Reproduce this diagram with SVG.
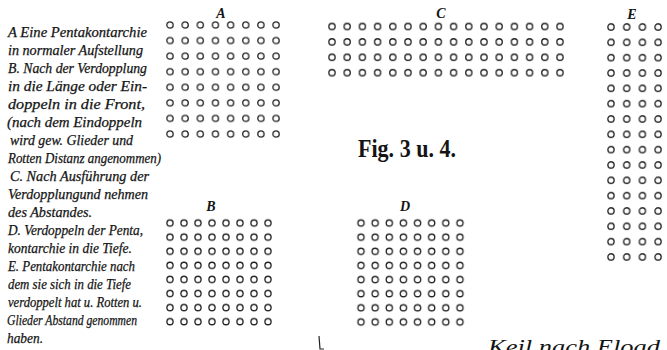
<svg xmlns="http://www.w3.org/2000/svg" width="667" height="350" viewBox="0 0 667 350">
<style>
.t{font-family:"Liberation Serif",serif;font-style:italic;font-size:14px;fill:#141414;stroke:#141414;stroke-width:0.25}
.lb{font-family:"Liberation Serif",serif;font-style:italic;font-weight:bold;font-size:14px;fill:#141414;text-anchor:middle}
.o{fill:none;stroke:#1e1e1e;stroke-width:1.3}
</style>
<defs>
<pattern id="pA" patternUnits="userSpaceOnUse" x="162.43" y="17.21" width="15.15" height="15.57"><circle class="o" cx="7.575" cy="7.785" r="3.1"/></pattern>
<pattern id="pC" patternUnits="userSpaceOnUse" x="324.4" y="18.8" width="15.2" height="15.4"><circle class="o" cx="7.6" cy="7.7" r="3.1"/></pattern>
<pattern id="pE" patternUnits="userSpaceOnUse" x="603.15" y="19.33" width="15.7" height="15.33"><circle class="o" cx="7.85" cy="7.665" r="3.1"/></pattern>
<pattern id="pB" patternUnits="userSpaceOnUse" x="163" y="215.95" width="14" height="14.1"><circle class="o" cx="7" cy="7.05" r="3.1"/></pattern>
<pattern id="pD" patternUnits="userSpaceOnUse" x="353.93" y="215.93" width="14.14" height="14.14"><circle class="o" cx="7.07" cy="7.07" r="3.1"/></pattern>
</defs>
<rect width="667" height="350" fill="#ffffff"/>
<g id="legend">
<text class="t" x="8" y="37" textLength="139" lengthAdjust="spacingAndGlyphs">A Eine Pentakontarchie</text>
<text class="t" x="8" y="55" textLength="135" lengthAdjust="spacingAndGlyphs">in normaler Aufstellung</text>
<text class="t" x="8" y="73" textLength="139" lengthAdjust="spacingAndGlyphs">B. Nach der Verdopplung</text>
<text class="t" x="8" y="91" textLength="139" lengthAdjust="spacingAndGlyphs">in die Länge oder Ein-</text>
<text class="t" x="8" y="109" textLength="137" lengthAdjust="spacingAndGlyphs">doppeln in die Front,</text>
<text class="t" x="7" y="127" textLength="135" lengthAdjust="spacingAndGlyphs">(nach dem Eindoppeln</text>
<text class="t" x="10" y="145" textLength="123" lengthAdjust="spacingAndGlyphs">wird gew. Glieder und</text>
<text class="t" x="8" y="163" textLength="153" lengthAdjust="spacingAndGlyphs">Rotten Distanz angenommen)</text>
<text class="t" x="10" y="181" textLength="139" lengthAdjust="spacingAndGlyphs">C. Nach Ausführung der</text>
<text class="t" x="8" y="199" textLength="140" lengthAdjust="spacingAndGlyphs">Verdopplungund nehmen</text>
<text class="t" x="8" y="217" textLength="84" lengthAdjust="spacingAndGlyphs">des Abstandes.</text>
<text class="t" x="8" y="235" textLength="135" lengthAdjust="spacingAndGlyphs">D. Verdoppeln der Penta,</text>
<text class="t" x="8" y="253" textLength="124" lengthAdjust="spacingAndGlyphs">kontarchie in die Tiefe.</text>
<text class="t" x="8" y="271" textLength="127" lengthAdjust="spacingAndGlyphs">E. Pentakontarchie nach</text>
<text class="t" x="8" y="289" textLength="123" lengthAdjust="spacingAndGlyphs">dem sie sich in die Tiefe</text>
<text class="t" x="8" y="307" textLength="134" lengthAdjust="spacingAndGlyphs">verdoppelt hat u. Rotten u.</text>
<text class="t" x="7" y="325" textLength="130" lengthAdjust="spacingAndGlyphs">Glieder Abstand genommen</text>
<text class="t" x="7" y="343" textLength="36" lengthAdjust="spacingAndGlyphs">haben.</text>
</g>
<g id="gridA">
<text class="lb" x="221" y="18">A</text>
<rect x="162.43" y="17.21" width="121.2" height="124.56" fill="url(#pA)"/>
</g>
<g id="gridC">
<text class="lb" x="441" y="18">C</text>
<rect x="324.4" y="18.8" width="243.2" height="61.6" fill="url(#pC)"/>
</g>
<g id="gridE">
<text class="lb" x="632" y="19">E</text>
<rect x="603.15" y="19.33" width="62.8" height="245.28" fill="url(#pE)"/>
</g>
<g id="gridB">
<text class="lb" x="211" y="211">B</text>
<rect x="163" y="215.95" width="112" height="112.8" fill="url(#pB)"/>
</g>
<g id="gridD">
<text class="lb" x="405" y="211">D</text>
<rect x="353.93" y="215.93" width="113.12" height="113.12" fill="url(#pD)"/>
</g>
<g id="title">
<text x="358" y="157" font-family="Liberation Serif, serif" font-weight="bold" font-size="26" fill="#141414" textLength="98" lengthAdjust="spacingAndGlyphs">Fig. 3 u. 4.</text>
</g>
<g id="footer">
<text x="488" y="354" font-family="Liberation Serif, serif" font-style="italic" font-size="21" fill="#141414" textLength="172" lengthAdjust="spacingAndGlyphs">Keil nach Eload</text>
<path d="M319 336 L320 349 L324 349" fill="none" stroke="#222" stroke-width="1.2"/>
</g>
</svg>
